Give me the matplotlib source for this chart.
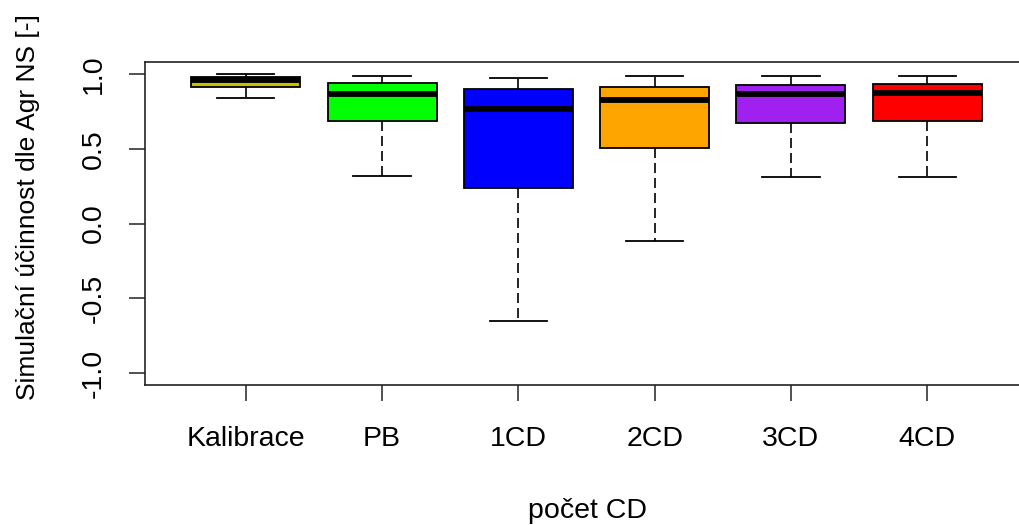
import matplotlib
matplotlib.use("Agg")
import matplotlib.pyplot as plt

plt.rcParams['font.family'] = ['Liberation Sans', 'DejaVu Sans']

# values
groups = ["Kalibrace", "PB", "1CD", "2CD", "3CD", "4CD"]
whislo = [0.840, 0.320, -0.654, -0.114, 0.312, 0.312]
q1 = [0.911, 0.683, 0.238, 0.503, 0.672, 0.683]
med = [0.957, 0.866, 0.766, 0.828, 0.866, 0.875]
q3 = [0.978, 0.937, 0.901, 0.913, 0.926, 0.935]
whishi = [0.997, 0.984, 0.970, 0.984, 0.986, 0.984]
colors = ["#C9BF00", "#00FF00", "#0000FF", "#FFA500", "#A020F0", "#FF0000"]

stats = []
for i in range(len(groups)):
    stats.append(dict(label=groups[i], whislo=whislo[i], q1=q1[i], med=med[i],
                      q3=q3[i], whishi=whishi[i]))

fig = plt.figure(figsize=(10.19, 5.25), dpi=100)
ax = fig.add_axes([145/1019, 1-385/525, 883/1019, 323/525])

pos = list(range(1, len(groups)+1))
bp = ax.bxp(stats, positions=pos, widths=0.8, capwidths=0.42, patch_artist=True,
            showfliers=False,
            boxprops=dict(edgecolor="black", linewidth=1.3),
            medianprops=dict(color="black", linewidth=4.2, solid_capstyle="butt"),
            whiskerprops=dict(color="black", linewidth=1.2, linestyle=(0, (6, 3))),
            capprops=dict(color="black", linewidth=1.3))
for patch, c in zip(bp["boxes"], colors):
    patch.set_facecolor(c)

ax.set_xlim(0.26, 6.74)
ax.set_ylim(-1.08, 1.08)
ax.set_yticks([-1.0, -0.5, 0.0, 0.5, 1.0])
ax.set_yticklabels(["-1.0", "-0.5", "0.0", "0.5", "1.0"], rotation=90, va="center")
ax.set_xticks(pos)
ax.set_xticklabels(groups)
ax.tick_params(axis="both", labelsize=20.5, length=11.5, width=1.1, color="#222222")
ax.tick_params(axis="y", pad=16)
ax.tick_params(axis="x", pad=18)
for s in ax.spines.values():
    s.set_linewidth(1.2)
    s.set_color("#222222")

fig.text(587/1019, 1-511/525, "počet CD", fontsize=20.5, ha="center", va="center")
fig.text(28/1019, 1-207/525, "Simulační účinnost dle Agr NS [-]", fontsize=19,
         rotation=90, ha="center", va="center")

fig.savefig("out.png", dpi=100)
plt.close()
